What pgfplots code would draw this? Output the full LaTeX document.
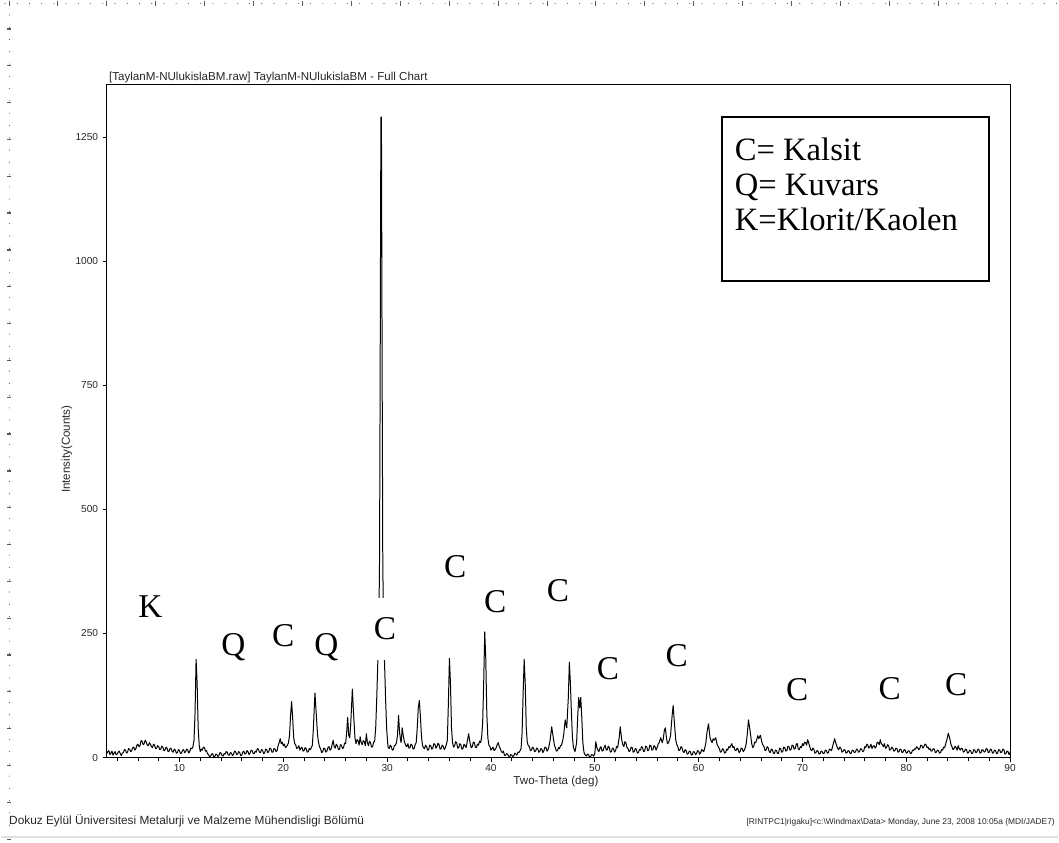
\documentclass[border=0pt]{standalone}
\usepackage{pgfplots}
\pgfplotsset{compat=1.18}
\usepackage{fontspec}
\setmainfont{Liberation Sans}
\newfontfamily\tnr{Liberation Serif}
\begin{document}
\begin{tikzpicture}[x=0.75pt,y=0.75pt]
% page frame
\path (0,0) rectangle (1059,844);
% page rulers
\foreach \i in {0,...,86} {\fill[black!65] ({4+12.25*\i},840.5) circle (0.55);}
\foreach \i in {0,...,19} {\draw[black!65,line width=0.6] ({8+49*\i},838) -- ({8+49*\i},843);}
\foreach \i in {0,...,67} {\fill[black!65] (8.5,{829-12.3*\i}) circle (0.55);}
\foreach \i in {0,...,22} {\draw[black!65,line width=0.9] (6.5,{815-36.9*\i}) -- (10.5,{815-36.9*\i});}
% bottom rule
\draw[black!12,line width=1.5] (0,5) -- (1059,5);

\begin{axis}[
  at={(79.5pt,63.75pt)}, anchor=south west,
  scale only axis, width=678.75pt, height=505.5pt,
  xmin=3, xmax=90, ymin=0, ymax=1355,
  xtick={10,20,...,90}, minor xtick={4,6,...,88},
  ytick={0,250,...,1250},
  tick pos=left, tick align=outside,
  major tick length=3pt, minor tick length=2.6pt,
  tick style={black, line width=0.6pt},
  axis line style={black, line width=0.75pt},
  ticklabel style={font=\fontsize{7.6}{9}\selectfont, text=black!85},
  xticklabel style={yshift=1pt},
  /pgf/number format/assume math mode=true,
  /pgf/number format/1000 sep={},
  clip=true,
]
\addplot[black, line width=0.75pt, line join=round, mark=none] coordinates {
(3.0,8) (3.1,12) (3.2,14) (3.3,6) (3.4,9) (3.5,13) (3.6,5) (3.7,9) (3.8,12) (3.9,6)
(4.0,7) (4.1,11) (4.2,13) (4.3,8) (4.4,4) (4.5,9) (4.6,10) (4.7,16) (4.8,15) (4.9,9)
(5.0,11) (5.1,18) (5.2,17) (5.3,12) (5.4,14) (5.5,20) (5.6,21) (5.7,15) (5.8,18) (5.9,25)
(6.0,27) (6.1,22) (6.2,24) (6.3,34) (6.4,33) (6.5,26) (6.6,28) (6.7,35) (6.8,31) (6.9,25)
(7.0,24) (7.1,30) (7.2,27) (7.3,22) (7.4,20) (7.5,27) (7.6,25) (7.7,18) (7.8,19) (7.9,24)
(8.0,22) (8.1,16) (8.2,17) (8.3,23) (8.4,21) (8.5,14) (8.6,15) (8.7,21) (8.8,19) (8.9,12)
(9.0,13) (9.1,19) (9.2,18) (9.3,12) (9.4,11) (9.5,17) (9.6,15) (9.7,9) (9.8,10) (9.9,16)
(10.0,14) (10.1,8) (10.2,9) (10.3,15) (10.4,16) (10.5,10) (10.6,12) (10.7,17) (10.8,15) (10.9,9)
(11.0,13) (11.1,19) (11.2,18) (11.3,22) (11.4,35) (11.5,90) (11.6,198) (11.7,150) (11.8,60) (11.9,25)
(12.0,12) (12.1,17) (12.2,15) (12.3,21) (12.4,20) (12.5,13) (12.6,14) (12.7,8) (12.8,6) (12.9,2)
(13.0,3) (13.1,7) (13.2,8) (13.3,1) (13.4,2) (13.5,7) (13.6,6) (13.7,2) (13.8,4) (13.9,10)
(14.0,9) (14.1,4) (14.2,3) (14.3,8) (14.4,7) (14.5,12) (14.6,11) (14.7,5) (14.8,5) (14.9,10)
(15.0,9) (15.1,4) (15.2,6) (15.3,13) (15.4,12) (15.5,6) (15.6,7) (15.7,12) (15.8,10) (15.9,4)
(16.0,5) (16.1,11) (16.2,13) (16.3,7) (16.4,8) (16.5,14) (16.6,12) (16.7,6) (16.8,9) (16.9,15)
(17.0,14) (17.1,8) (17.2,8) (17.3,13) (17.4,11) (17.5,18) (17.6,17) (17.7,11) (17.8,10) (17.9,16)
(18.0,15) (18.1,8) (18.2,9) (18.3,17) (18.4,16) (18.5,10) (18.6,12) (18.7,19) (18.8,18) (18.9,11)
(19.0,11) (19.1,18) (19.2,17) (19.3,12) (19.4,14) (19.5,24) (19.6,30) (19.7,38) (19.8,28) (19.9,31)
(20.0,24) (20.1,27) (20.2,20) (20.3,22) (20.4,25) (20.5,30) (20.6,45) (20.7,85) (20.8,113) (20.9,80)
(21.0,40) (21.1,28) (21.2,25) (21.3,18) (21.4,20) (21.5,24) (21.6,15) (21.7,19) (21.8,21) (21.9,13)
(22.0,14) (22.1,20) (22.2,18) (22.3,11) (22.4,12) (22.5,18) (22.6,16) (22.7,20) (22.8,25) (22.9,60)
(23.0,110) (23.05,130) (23.15,95) (23.3,45) (23.4,30) (23.5,21) (23.6,17) (23.7,10) (23.8,12) (23.9,19)
(24.0,18) (24.1,11) (24.2,13) (24.3,20) (24.4,22) (24.5,15) (24.6,17) (24.7,26) (24.8,35) (24.9,22)
(25.0,19) (25.1,27) (25.2,24) (25.3,17) (25.4,16) (25.5,26) (25.6,25) (25.7,18) (25.8,20) (25.9,29)
(26.0,28) (26.1,50) (26.2,81) (26.3,45) (26.4,40) (26.5,70) (26.65,138) (26.75,95) (26.9,40) (27.0,28)
(27.1,36) (27.2,34) (27.3,25) (27.4,42) (27.5,30) (27.6,26) (27.7,34) (27.8,32) (27.9,24) (28.0,48)
(28.1,30) (28.2,24) (28.3,33) (28.4,30) (28.5,21) (28.6,22) (28.7,31) (28.8,33) (28.9,60) (29.0,120)
(29.1,190) (29.2,260) (29.27,400) (29.33,780) (29.4,1290) (29.45,1290) (29.52,780) (29.58,400) (29.65,260) (29.75,190)
(29.85,120) (29.95,60) (30.05,30) (30.1,20) (30.2,18) (30.3,25) (30.4,22) (30.5,15) (30.6,16) (30.7,24)
(30.8,25) (30.9,30) (31.0,45) (31.1,85) (31.2,50) (31.3,35) (31.35,30) (31.45,60) (31.55,45) (31.65,33)
(31.7,30) (31.8,24) (31.9,22) (32.0,28) (32.1,19) (32.2,20) (32.3,27) (32.4,25) (32.5,17) (32.6,18)
(32.7,26) (32.8,30) (32.9,60) (33.0,100) (33.1,115) (33.2,85) (33.3,45) (33.4,25) (33.5,20) (33.6,18)
(33.7,25) (33.8,22) (33.9,15) (34.0,16) (34.1,25) (34.2,24) (34.3,17) (34.4,19) (34.5,28) (34.6,27)
(34.7,19) (34.8,22) (34.9,29) (35.0,26) (35.1,17) (35.2,18) (35.3,25) (35.4,23) (35.5,16) (35.6,20)
(35.7,26) (35.8,35) (35.9,110) (36.0,200) (36.1,150) (36.2,60) (36.3,30) (36.4,21) (36.5,24) (36.6,32)
(36.7,30) (36.8,19) (36.9,20) (37.0,28) (37.1,26) (37.2,17) (37.3,18) (37.4,27) (37.5,24) (37.6,20)
(37.7,30) (37.85,48) (38.0,28) (38.1,20) (38.2,22) (38.3,31) (38.4,30) (38.5,21) (38.6,20) (38.7,27)
(38.8,25) (38.9,33) (39.0,30) (39.1,40) (39.2,70) (39.3,150) (39.4,253) (39.5,200) (39.6,90) (39.7,40)
(39.8,25) (39.9,22) (40.0,15) (40.1,18) (40.2,21) (40.3,14) (40.4,16) (40.5,20) (40.6,26) (40.7,30)
(40.8,22) (40.9,18) (41.0,12) (41.1,10) (41.2,13) (41.3,5) (41.4,4) (41.5,8) (41.6,7) (41.7,3)
(41.8,1) (41.9,6) (42.0,5) (42.1,2) (42.2,4) (42.3,9) (42.4,7) (42.5,5) (42.6,11) (42.7,10)
(42.8,14) (42.9,18) (43.0,50) (43.1,130) (43.2,198) (43.3,150) (43.4,60) (43.5,30) (43.6,24) (43.7,22)
(43.8,14) (43.9,15) (44.0,21) (44.1,19) (44.2,12) (44.3,13) (44.4,19) (44.5,18) (44.6,11) (44.7,12)
(44.8,18) (44.9,17) (45.0,10) (45.1,14) (45.2,21) (45.3,20) (45.4,13) (45.5,16) (45.6,24) (45.7,35)
(45.85,62) (46.0,40) (46.1,26) (46.2,20) (46.3,13) (46.4,14) (46.5,20) (46.6,18) (46.7,24) (46.8,25)
(46.9,33) (47.0,45) (47.15,76) (47.3,60) (47.45,120) (47.55,192) (47.65,150) (47.75,90) (47.85,40) (47.95,20)
(48.1,12) (48.25,30) (48.35,80) (48.45,121) (48.55,100) (48.65,121) (48.75,80) (48.85,30) (48.95,12) (49.0,8)
(49.1,5) (49.2,3) (49.3,7) (49.4,6) (49.5,1) (49.6,2) (49.7,6) (49.8,5) (49.9,3) (50.0,8)
(50.1,32) (50.2,20) (50.3,15) (50.4,12) (50.5,19) (50.6,22) (50.7,13) (50.8,14) (50.9,21) (51.0,25)
(51.1,15) (51.2,16) (51.3,23) (51.4,20) (51.5,11) (51.6,12) (51.7,19) (51.8,18) (51.9,11) (52.0,14)
(52.1,22) (52.2,20) (52.35,40) (52.45,62) (52.6,35) (52.7,26) (52.8,22) (52.9,32) (53.0,30) (53.1,20)
(53.2,18) (53.3,12) (53.4,14) (53.5,21) (53.6,20) (53.7,11) (53.8,12) (53.9,18) (54.0,17) (54.1,9)
(54.2,10) (54.3,16) (54.4,15) (54.5,22) (54.6,20) (54.7,12) (54.8,13) (54.9,23) (55.0,22) (55.1,14)
(55.2,15) (55.3,25) (55.4,24) (55.5,15) (55.6,16) (55.7,24) (55.8,22) (55.9,15) (56.0,20) (56.1,27)
(56.2,30) (56.35,40) (56.5,30) (56.6,38) (56.7,55) (56.8,60) (56.9,40) (57.0,28) (57.1,30) (57.2,36)
(57.3,45) (57.45,85) (57.55,105) (57.65,75) (57.8,35) (57.9,26) (58.0,22) (58.1,14) (58.2,15) (58.3,22)
(58.4,20) (58.5,12) (58.6,10) (58.7,16) (58.8,14) (58.9,7) (59.0,8) (59.1,13) (59.2,12) (59.3,5)
(59.4,6) (59.5,12) (59.6,11) (59.7,6) (59.8,8) (59.9,14) (60.0,13) (60.1,7) (60.2,10) (60.3,16)
(60.4,14) (60.5,12) (60.6,20) (60.7,30) (60.8,50) (60.95,68) (61.1,40) (61.2,34) (61.3,30) (61.4,38)
(61.5,35) (61.65,40) (61.8,25) (61.9,22) (62.0,18) (62.1,11) (62.2,12) (62.3,18) (62.4,16) (62.5,9)
(62.6,10) (62.7,17) (62.8,15) (62.9,22) (63.0,20) (63.1,24) (63.2,28) (63.3,20) (63.4,22) (63.5,15)
(63.6,14) (63.7,19) (63.8,17) (63.9,10) (64.0,12) (64.1,19) (64.2,18) (64.3,12) (64.4,15) (64.5,20)
(64.6,30) (64.7,50) (64.8,76) (64.95,55) (65.1,30) (65.2,20) (65.3,22) (65.4,31) (65.5,30) (65.6,36)
(65.7,44) (65.8,38) (65.95,45) (66.1,30) (66.2,25) (66.3,22) (66.4,14) (66.5,15) (66.6,22) (66.7,20)
(66.8,12) (66.9,10) (67.0,17) (67.1,16) (67.2,9) (67.3,8) (67.4,15) (67.5,14) (67.6,8) (67.7,9)
(67.8,19) (67.9,18) (68.0,11) (68.1,12) (68.2,21) (68.3,20) (68.4,13) (68.5,14) (68.6,23) (68.7,22)
(68.8,15) (68.9,16) (69.0,25) (69.1,24) (69.2,17) (69.3,18) (69.4,27) (69.5,28) (69.6,17) (69.7,16)
(69.8,22) (69.9,20) (70.0,28) (70.1,24) (70.2,31) (70.3,30) (70.4,25) (70.5,36) (70.6,30) (70.7,22)
(70.8,16) (70.9,14) (71.0,19) (71.1,17) (71.2,9) (71.3,10) (71.4,14) (71.5,13) (71.6,7) (71.7,8)
(71.8,13) (71.9,12) (72.0,8) (72.1,9) (72.2,15) (72.3,14) (72.4,9) (72.5,10) (72.6,17) (72.7,16)
(72.8,14) (72.9,22) (73.0,30) (73.1,38) (73.2,30) (73.3,24) (73.4,18) (73.5,16) (73.6,21) (73.7,19)
(73.8,11) (73.9,12) (74.0,16) (74.1,15) (74.2,9) (74.3,10) (74.4,14) (74.5,13) (74.6,8) (74.7,9)
(74.8,15) (74.9,14) (75.0,10) (75.1,11) (75.2,17) (75.3,16) (75.4,11) (75.5,12) (75.6,18) (75.7,17)
(75.8,12) (75.9,13) (76.0,22) (76.1,20) (76.2,27) (76.3,25) (76.4,19) (76.5,22) (76.6,27) (76.7,18)
(76.8,23) (76.9,24) (77.0,19) (77.1,22) (77.2,31) (77.3,30) (77.4,26) (77.5,36) (77.6,28) (77.7,26)
(77.8,22) (77.9,28) (78.0,19) (78.1,20) (78.2,26) (78.3,24) (78.4,15) (78.5,16) (78.6,21) (78.7,19)
(78.8,13) (78.9,14) (79.0,19) (79.1,18) (79.2,11) (79.3,12) (79.4,17) (79.5,16) (79.6,10) (79.7,11)
(79.8,16) (79.9,15) (80.0,9) (80.1,10) (80.2,14) (80.3,13) (80.4,8) (80.5,9) (80.6,15) (80.7,14)
(80.8,18) (80.9,17) (81.0,22) (81.1,20) (81.2,16) (81.3,18) (81.4,25) (81.5,24) (81.6,19) (81.7,22)
(81.8,27) (81.9,26) (82.0,20) (82.1,21) (82.2,16) (82.3,18) (82.4,13) (82.5,14) (82.6,18) (82.7,17)
(82.8,10) (82.9,11) (83.0,15) (83.1,14) (83.2,9) (83.3,10) (83.4,16) (83.5,15) (83.6,21) (83.7,20)
(83.8,28) (83.9,35) (84.05,49) (84.2,38) (84.3,27) (84.4,22) (84.5,16) (84.6,18) (84.7,23) (84.8,20)
(84.9,15) (85.0,24) (85.1,18) (85.2,15) (85.3,19) (85.4,18) (85.5,11) (85.6,12) (85.7,17) (85.8,16)
(85.9,9) (86.0,10) (86.1,15) (86.2,14) (86.3,8) (86.4,9) (86.5,16) (86.6,15) (86.7,10) (86.8,11)
(86.9,17) (87.0,16) (87.1,9) (87.2,10) (87.3,16) (87.4,15) (87.5,11) (87.6,12) (87.7,18) (87.8,17)
(87.9,10) (88.0,11) (88.1,17) (88.2,16) (88.3,9) (88.4,10) (88.5,15) (88.6,14) (88.7,8) (88.8,9)
(88.9,16) (89.0,15) (89.1,10) (89.2,11) (89.3,17) (89.4,16) (89.5,7) (89.6,8) (89.7,13) (89.8,12)
(89.9,6) (90.0,10)
};
% phase markers
\begin{scope}[every node/.style={font=\tnr\fontsize{25}{30}\selectfont, inner sep=1pt}]
\node at (axis cs:7.2,305) {K};
\node at (axis cs:15.2,223) {Q};
\node at (axis cs:20.0,245) {C};
\node at (axis cs:24.15,223) {Q};
\node[fill=white, inner xsep=2pt, minimum height=47pt] at (axis cs:29.8,259) {C};
\node at (axis cs:36.55,384) {C};
\node at (axis cs:40.4,314) {C};
\node at (axis cs:46.46,336) {C};
\node at (axis cs:51.27,179) {C};
\node at (axis cs:57.9,205) {C};
\node at (axis cs:69.5,137) {C};
\node at (axis cs:78.4,139) {C};
\node at (axis cs:84.8,147) {C};
\end{scope}
\end{axis}

% axis titles
\node[font=\fontsize{8.7}{10}\selectfont, text=black!85, anchor=base west, inner sep=0pt] at (108,763) {[TaylanM-NUlukislaBM.raw] TaylanM-NUlukislaBM - Full Chart};
\node[font=\fontsize{8.7}{10}\selectfont, text=black!85] at (556,61) {Two-Theta (deg)};
\node[font=\fontsize{8.7}{10}\selectfont, text=black!85, rotate=90] at (66,394) {Intensity(Counts)};

% key box
\draw[line width=1.5pt, fill=white] (722,727) rectangle (990,562);
\begin{scope}[every node/.style={font=\tnr\fontsize{24.5}{29}\selectfont, anchor=base west, inner sep=0pt}]
\node at (735,683) {C= Kalsit};
\node at (735,648) {Q= Kuvars};
\node at (735,613) {K=Klorit/Kaolen};
\end{scope}

% footer
\node[font=\fontsize{8.9}{10.5}\selectfont, text=black!85, anchor=base west, inner sep=0pt] at (8,18) {Dokuz Eylül Üniversitesi Metalurji ve Malzeme Mühendisligi Bölümü};
\node[font=\fontsize{6.3}{8}\selectfont, text=black!85, anchor=base east, inner sep=0pt] at (1056,18) {[RINTPC1|rigaku]<c:\textbackslash Windmax\textbackslash Data> Monday, June 23, 2008 10:05a (MDI/JADE7)};
\end{tikzpicture}
\end{document}
